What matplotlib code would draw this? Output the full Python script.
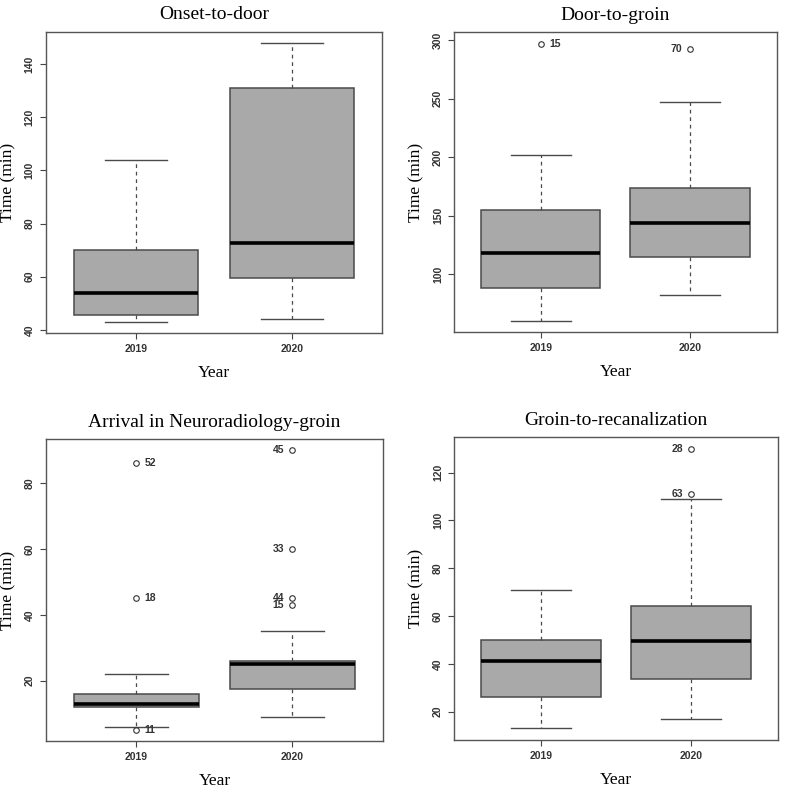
import matplotlib.pyplot as plt

years = ['2019', '2020']

titles = ['Onset-to-door', 'Door-to-groin',
          'Arrival in Neuroradiology-groin', 'Groin-to-recanalization']

# five-number summaries per panel, [2019, 2020]
whislo = [[43, 44], [60, 82], [6, 9], [13, 17]]
q1 = [[45.5, 59.5], [88, 115], [12, 17.5], [26, 33.5]]
med = [[54, 72.5], [118, 144], [13, 25], [41, 49.5]]
q3 = [[70, 131], [155, 174], [16, 26], [50, 64]]
whishi = [[104, 148], [202, 247], [22, 35], [71, 109]]

# outliers and their case labels
fliers = [[[], []], [[297], [292]], [[86, 45, 5], [90, 60, 45, 43]], [[], [130, 111]]]
flier_ids = [[[], []], [['15'], ['70']], [['52', '18', '11'], ['45', '33', '44', '15']],
             [[], ['28', '63']]]

yticks = [[40, 60, 80, 100, 120, 140], [100, 150, 200, 250, 300],
          [20, 40, 60, 80], [20, 40, 60, 80, 100, 120]]

# axes rectangles in figure fractions
rects = [[0.058, 0.579, 0.425, 0.381], [0.574, 0.580, 0.408, 0.379],
         [0.058, 0.063, 0.426, 0.382], [0.574, 0.065, 0.410, 0.382]]

edge = '#4a4a4a'
fig = plt.figure(figsize=(7.91, 7.91), dpi=100)

for k in range(4):
    ax = fig.add_axes(rects[k])
    stats = []
    for i in range(2):
        stats.append(dict(whislo=whislo[k][i], q1=q1[k][i], med=med[k][i],
                          q3=q3[k][i], whishi=whishi[k][i], fliers=fliers[k][i]))
    ax.bxp(stats, positions=[1, 2], widths=0.8, patch_artist=True,
           boxprops=dict(facecolor='#a9a9a9', edgecolor=edge, linewidth=1.1),
           medianprops=dict(color='black', linewidth=2.6),
           whiskerprops=dict(color=edge, linestyle=(0, (3, 3)), linewidth=0.9),
           capprops=dict(color=edge, linewidth=1.0), capwidths=0.4,
           flierprops=dict(marker='o', markersize=4, markerfacecolor='none',
                           markeredgecolor='#333333', markeredgewidth=0.8))
    for i in range(2):
        for v, lab in zip(fliers[k][i], flier_ids[k][i]):
            if i == 0:
                ax.annotate(lab, (i + 1, v), xytext=(6, 0), textcoords='offset points',
                            ha='left', va='center', fontsize=7.5, fontweight='bold',
                            color='#333333', family='Liberation Sans')
            else:
                ax.annotate(lab, (i + 1, v), xytext=(-6, 0), textcoords='offset points',
                            ha='right', va='center', fontsize=7.5, fontweight='bold',
                            color='#333333', family='Liberation Sans')
    lo = min(whislo[k] + [f for fs in fliers[k] for f in fs])
    hi = max(whishi[k] + [f for fs in fliers[k] for f in fs])
    pad = (hi - lo) * 0.04
    ax.set_ylim(lo - pad, hi + pad)
    ax.set_xlim(0.42, 2.58)
    ax.set_xticks([1, 2])
    ax.set_xticklabels(years)
    ax.set_yticks(yticks[k])
    ax.set_yticklabels([str(t) for t in yticks[k]], rotation=90, va='center')
    ax.tick_params(length=4, width=0.8, color='#444444', labelsize=7.5,
                   labelcolor='#333333', pad=4)
    for t in ax.get_xticklabels() + ax.get_yticklabels():
        t.set_fontweight('bold')
        t.set_family('Liberation Sans')
    for s in ax.spines.values():
        s.set_color('#555555')
        s.set_linewidth(1.0)
    ax.set_title(titles[k], family='Liberation Serif', fontsize=14, pad=9)
    ax.set_xlabel('Year', family='Liberation Serif', fontsize=12.5, labelpad=8)
    ax.set_ylabel('Time (min)', family='Liberation Serif', fontsize=12.5, labelpad=6)

plt.savefig('out.png', dpi=100)
